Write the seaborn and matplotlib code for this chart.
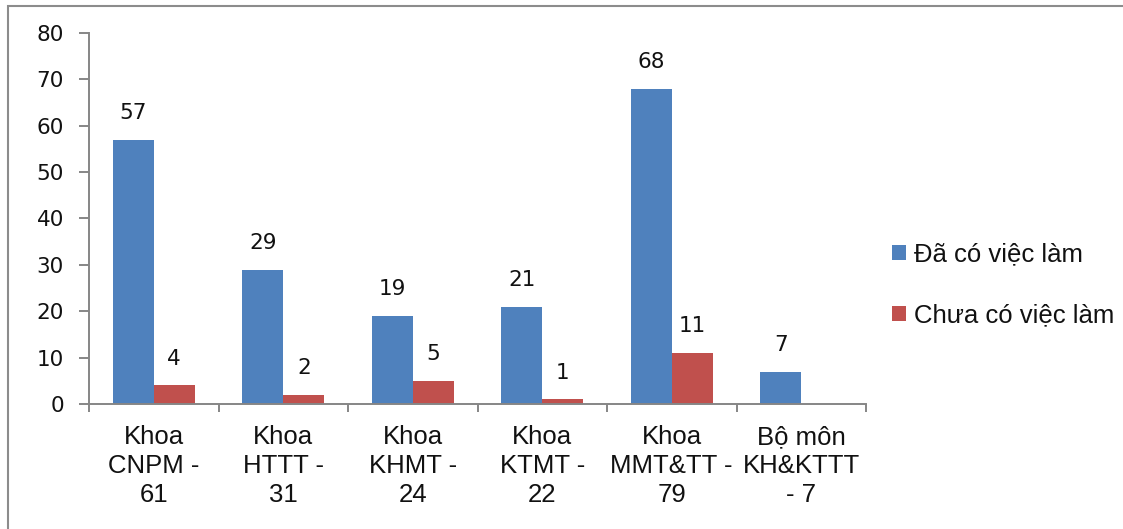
import matplotlib
matplotlib.use("Agg")
import matplotlib.pyplot as plt
from matplotlib.patches import Rectangle
from matplotlib.ticker import FixedLocator
import numpy as np
import pandas as pd
import seaborn as sns

# Employment status of graduates by faculty
categories = [
    "Khoa\nCNPM -\n61",
    "Khoa\nHTTT -\n31",
    "Khoa\nKHMT -\n24",
    "Khoa\nKTMT -\n22",
    "Khoa\nMMT&TT -\n79",
    "Bộ môn\nKH&KTTT\n- 7",
]
series_names = ["Đã có việc làm", "Chưa có việc làm"]
employed = [57, 29, 19, 21, 68, 7]
unemployed = [4, 2, 5, 1, 11, np.nan]
y_ticks = [0, 10, 20, 30, 40, 50, 60, 70, 80]

colors = ["#4F81BD", "#C0504D"]
axis_gray = "#868686"

df = pd.DataFrame({
    "category": categories * 2,
    "series": [series_names[0]] * len(categories) + [series_names[1]] * len(categories),
    "value": employed + unemployed,
})

sns.set_theme(style="white")
plt.rcParams["font.family"] = ["DejaVu Sans"]

W, H = 1123, 529
fig = plt.figure(figsize=(W / 100, H / 100), dpi=100)
ax = fig.add_axes([89 / W, 1 - 404 / H, (866 - 89) / W, (404 - 33) / H])

sns.barplot(
    data=df, x="category", y="value", hue="series", order=categories,
    hue_order=series_names, palette=colors, saturation=1, width=0.634,
    gap=0, errorbar=None, edgecolor="none", linewidth=0, ax=ax,
)

# value labels above each bar
for cont in ax.containers:
    ax.bar_label(cont, fmt="%g", padding=12, fontsize=15.5,
                 fontfamily="DejaVu Sans", color="#111111")

ax.set_xlim(-0.5, len(categories) - 0.5)
ax.set_ylim(0, 80)
ax.set_yticks(y_ticks)
ax.set_xlabel("")
ax.set_ylabel("")

for side in ["top", "right"]:
    ax.spines[side].set_visible(False)
for side in ["left", "bottom"]:
    ax.spines[side].set_color(axis_gray)
    ax.spines[side].set_linewidth(1.4)

ax.tick_params(axis="y", which="major", direction="out", length=7, width=1.4,
               color=axis_gray, pad=11, labelsize=15.5, labelcolor="#111111", left=True)
for lab in ax.get_yticklabels():
    lab.set_fontfamily("DejaVu Sans")

# category labels centred, tick marks on category boundaries
ax.xaxis.set_minor_locator(FixedLocator(np.arange(-0.5, len(categories), 1.0)))
ax.tick_params(axis="x", which="major", length=0, pad=15, labelsize=18.5,
               labelcolor="#111111", bottom=True)
ax.tick_params(axis="x", which="minor", direction="out", length=6, width=1.4,
               color=axis_gray, bottom=True)
for lab in ax.get_xticklabels():
    lab.set_fontfamily("Liberation Sans")
    lab.set_linespacing(1.26)

leg = ax.legend(
    loc="center left", bbox_to_anchor=(892 / W, 1 - 285 / H),
    bbox_transform=fig.transFigure, frameon=False, borderaxespad=0, borderpad=0,
    prop={"family": "Liberation Sans", "size": 18.5}, handlelength=0.55,
    handleheight=0.55, handletextpad=0.3, labelspacing=1.45, title=None,
)
for t in leg.get_texts():
    t.set_color("#111111")

# chart area border (top and left edges visible)
fig.add_artist(Rectangle((8 / W, -0.5), 2, 1.5 - 6 / H, transform=fig.transFigure,
                         fill=False, edgecolor="#8C8C8C", linewidth=1.5))

fig.savefig("out.png", dpi=100, facecolor="white")
